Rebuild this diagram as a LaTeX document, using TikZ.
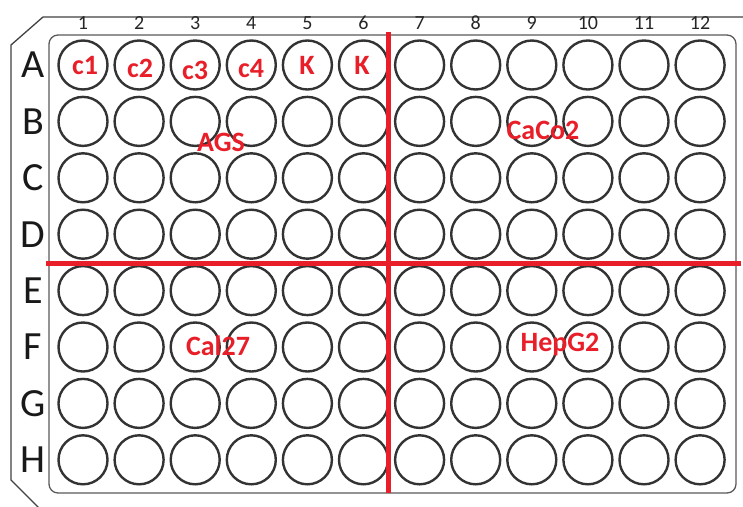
\documentclass[tikz,border=0pt]{standalone}
\usepackage{fontspec}
\setmainfont{Carlito}
\newfontfamily\lblfont{Carlito}
\begin{document}
\begin{tikzpicture}[x=1pt,y=-1pt,
  well/.style={draw=black!80, line width=2.4pt, circle, minimum size=49pt, inner sep=0pt},
  plate/.style={draw=black!75, line width=1.3pt},
  redline/.style={line width=5pt, draw={rgb,255:red,232;green,30;blue,40}},
  tag/.style={text={rgb,255:red,232;green,30;blue,40}, font=\fontsize{28}{28}\selectfont\bfseries, inner sep=0pt},
  collbl/.style={font=\lblfont\fontsize{20}{20}\selectfont, text=black!85, inner sep=0pt},
  rowlbl/.style={font=\lblfont\fontsize{40}{40}\selectfont, text=black!90, inner sep=0pt}]
\useasboundingbox (0,0) rectangle (743,506);
\begin{scope}
\clip (0,0) rectangle (743,506);
\draw[plate] (750,17) -- (43,17) -- (11,45) -- (11,480) -- (40,509);
\end{scope}
\draw[plate, draw=black!65, rounded corners=9pt] (49,35) rectangle (736,493);
\foreach \c in {1,...,12} {
  \node[collbl] (col\c) at ({83+56.1*(\c-1)},23) {\c};
}
\foreach \r/\L [count=\i from 1] in {A/A,B/B,C/C,D/D,E/E,F/F,G/G,H/H} {
  \node[rowlbl] (row\L) at (33,{65+56.4*(\i-1)}) {\L};
  \foreach \c in {1,...,12} {
    \node[well] (w\L\c) at ({83+56.1*(\c-1)},{65+56.4*(\i-1)}) {};
  }
}
\coordinate (vtop) at (388,32);
\coordinate (vbot) at (388,493);
\coordinate (hl) at (46,263);
\coordinate (hr) at (741,263);
\draw[redline] (vtop) -- (vbot);
\draw[redline] (hl) -- (hr);
\node[tag] (t1) at (85,66) {c1};
\node[tag] (t2) at (140,68) {c2};
\node[tag] (t3) at (195,70) {c3};
\node[tag] (t4) at (251,69) {c4};
\node[tag] (t5) at (307,65) {K};
\node[tag] (t6) at (362,65) {K};
\node[tag] (ags) at (221,142) {AGS};
\node[tag] (caco) at (543,130) {CaCo2};
\node[tag] (cal) at (218,346) {Cal27};
\node[tag] (hep) at (560,345) {HepG2};
\end{tikzpicture}
\end{document}
